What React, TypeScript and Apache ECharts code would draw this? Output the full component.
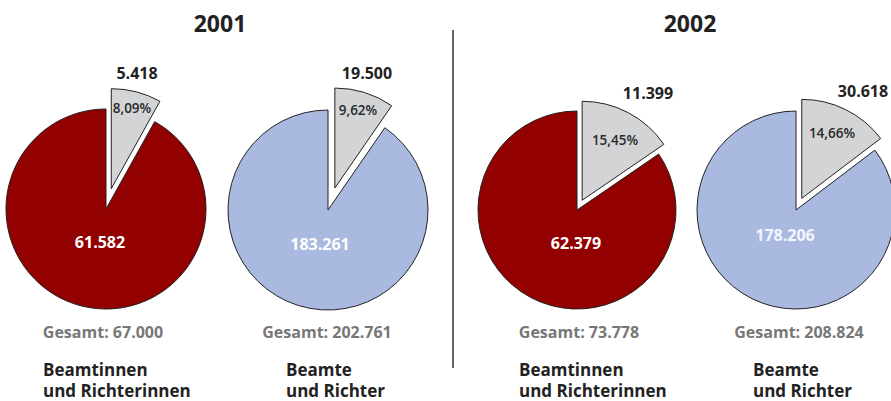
import React, { useEffect, useRef } from "react";
import * as echarts from "echarts";

const years = ["2001", "2002"];
const pieGroups = ["Beamtinnen\nund Richterinnen", "Beamte\nund Richter", "Beamtinnen\nund Richterinnen", "Beamte\nund Richter"];
const highlightValues = [5418, 19500, 11399, 30618];
const restValues = [61582, 183261, 62379, 178206];

const RED = "#930000";
const BLUE = "#AAB9DF";
const GREY = "#D3D4D6";
const STROKE = "#222222";
const FONT = "'Open Sans', 'Noto Sans', sans-serif";

// layout (positions only)
const layout = [
  { cx: 106, cy: 209, r: 100, off: 21, color: RED, main: [100, 242], pct: [132, 108], val: [137, 73], ges: [103, 332], gx: 43, mainColor: "#ffffff" },
  { cx: 328, cy: 210, r: 100, off: 23, color: BLUE, main: [320, 244], pct: [358, 110], val: [367, 73], ges: [327, 332], gx: 286, mainColor: "#ffffff" },
  { cx: 577, cy: 210, r: 99, off: 11, color: RED, main: [576, 243], pct: [615, 140], val: [648, 93], ges: [579, 332], gx: 519, mainColor: "#ffffff" },
  { cx: 796, cy: 210, r: 99, off: 13, color: BLUE, main: [785, 235], pct: [832, 133], val: [863, 91], ges: [799, 332], gx: 753, mainColor: "#f4f6ff" },
];
const yearTitlePos = [[220, 23], [690, 23]];

function fmt(n: number): string {
  return String(n).replace(/\B(?=(\d{3})+(?!\d))/g, ".");
}
function pct(a: number, total: number): string {
  return ((a / total) * 100).toFixed(2).replace(".", ",") + "%";
}

export default function App() {
  const ref = useRef<HTMLDivElement>(null);
  useEffect(() => {
    if (!ref.current) return;
    const chart = echarts.init(ref.current, undefined, { renderer: "svg" });
    const series: any[] = [];
    const graphic: any[] = [];

    const overlay = (L: any, h: number, m: number, pos: number[], text: string, size: number, weight: any, color: string) => ({
      type: "pie",
      center: [L.cx, L.cy],
      radius: [0, L.r],
      startAngle: 90,
      silent: true,
      z: 3,
      emphasis: { disabled: true },
      labelLine: { show: false },
      itemStyle: { color: "rgba(0,0,0,0)", borderWidth: 0 },
      label: { show: true, position: "inside" },
      labelLayout: () => ({ x: pos[0], y: pos[1], align: "center", verticalAlign: "middle" }),
      data: [
        {
          value: h,
          name: "Wert",
          label: { show: true, formatter: text, color, fontSize: size, fontWeight: weight, fontFamily: FONT },
        },
        { value: m, name: "x", label: { show: false } },
      ],
    });

    layout.forEach((L, i) => {
      const h = highlightValues[i];
      const m = restValues[i];
      const total = h + m;
      series.push({
        type: "pie",
        center: [L.cx, L.cy],
        radius: [0, L.r],
        startAngle: 90,
        clockwise: true,
        selectedMode: "single",
        selectedOffset: L.off,
        silent: true,
        emphasis: { disabled: true },
        labelLine: { show: false },
        itemStyle: { borderColor: STROKE, borderWidth: 1 },
        label: { show: true, position: "inside", fontFamily: FONT },
        labelLayout: () => ({ x: L.main[0], y: L.main[1], align: "center", verticalAlign: "middle" }),
        data: [
          {
            value: h,
            name: "Anteil",
            selected: true,
            itemStyle: { color: GREY },
            label: { show: false },
          },
          {
            value: m,
            name: "Rest",
            itemStyle: { color: L.color },
            label: { show: true, formatter: fmt(m), color: L.mainColor, fontSize: 16, fontWeight: "bold" },
          },
        ],
      });
      series.push(overlay(L, h, m, L.val, fmt(h), 16, "bold", "#222222"));
      series.push(overlay(L, h, m, L.pct, pct(h, total), 13.5, 600, "#2a2a2a"));
      graphic.push({
        type: "text",
        x: L.ges[0],
        y: L.ges[1],
        style: {
          text: "Gesamt: " + fmt(total),
          font: `bold 16px ${FONT}`,
          fill: "#777777",
          align: "center",
          verticalAlign: "middle",
        },
      });
      graphic.push({
        type: "text",
        x: L.gx,
        y: 359,
        style: {
          text: pieGroups[i],
          font: `bold 17px ${FONT}`,
          fill: "#222222",
          align: "left",
          verticalAlign: "top",
          lineHeight: 21,
        },
      });
    });

    years.forEach((y, i) => {
      graphic.push({
        type: "text",
        x: yearTitlePos[i][0],
        y: yearTitlePos[i][1],
        style: {
          text: y,
          font: `bold 23px ${FONT}`,
          fill: "#222222",
          align: "center",
          verticalAlign: "middle",
        },
      });
    });
    graphic.push({
      type: "line",
      shape: { x1: 453, y1: 30, x2: 453, y2: 368 },
      style: { stroke: "#333333", lineWidth: 1.5 },
    });

    chart.setOption({
      animation: false,
      backgroundColor: "#ffffff",
      series,
      graphic,
    });
    return () => chart.dispose();
  }, []);
  return (
    <div
      ref={ref}
      style={{ position: "fixed", left: 0, top: 0, width: 891, height: 401 }}
    />
  );
}
